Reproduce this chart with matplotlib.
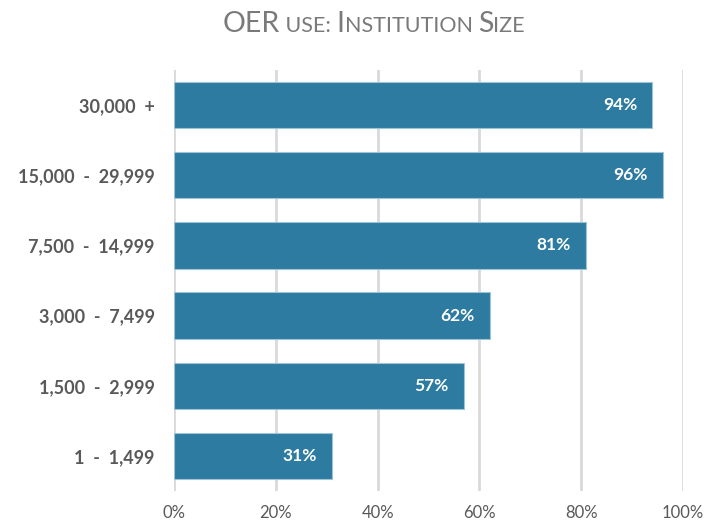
import numpy as np
import matplotlib.pyplot as plt

# Данные
sizes = ["30,000  +", "15,000  -  29,999", "7,500  -  14,999", "3,000  -  7,499",
         "1,500  -  2,999", "1  -  1,499"]
oer_use = [0.94, 0.96, 0.81, 0.62, 0.57, 0.31]
ticks = [0, 0.2, 0.4, 0.6, 0.8, 1.0]
tick_labels = ["0%", "20%", "40%", "60%", "80%", "100%"]

# куски заголовка: (текст, крупная буква)
title_parts = [("OER", True), (" USE: ", False), ("I", True), ("NSTITUTION ", False),
               ("S", True), ("IZE", False)]

bar_color = "#2D7BA0"
font = "Lato"

fig = plt.figure(figsize=(7.04, 5.23), dpi=100)
ax = fig.add_axes([174 / 704, 1 - 491 / 523, 509 / 704, 421 / 523])

y = np.arange(len(sizes))
ax.barh(y, oer_use, height=0.66, color=bar_color, edgecolor="#9cc3d6",
        linewidth=0.8, zorder=3)

for yi, v in zip(y, oer_use):
    ax.text(v - 0.03, yi, f"{round(v * 100)}%", ha="right", va="center",
            color="white", fontsize=12.5, fontweight="bold", family=font, zorder=4)

ax.set_ylim(len(sizes) - 0.5, -0.5)
ax.set_xlim(0, 1.0)
ax.set_yticks(y)
ax.set_yticklabels(sizes, fontsize=13, fontweight="bold", color="#595959", family=font)
ax.set_xticks(ticks)
ax.set_xticklabels(tick_labels, fontsize=12, color="#595959", family=font)
ax.tick_params(length=0, pad=14, axis="y")
ax.tick_params(length=0, pad=10, axis="x")
ax.grid(axis="x", color="#d9d9d9", linewidth=2, zorder=0)
ax.set_axisbelow(True)
for s in ax.spines.values():
    s.set_visible(False)

# заголовок капителью из кусков
fig.canvas.draw()
r = fig.canvas.get_renderer()
texts = []
for t, big in title_parts:
    txt = fig.text(0, 1 - 32 / 523, t, fontsize=20.5 if big else 15.5, color="#7a7a7a",
                   family=font, va="baseline", ha="left")
    texts.append(txt)
widths = [tx.get_window_extent(r).width for tx in texts]
x0 = 374 - sum(widths) / 2
for tx, w in zip(texts, widths):
    tx.set_x(x0 / 704)
    x0 += w

fig.savefig("out.png", dpi=100)
